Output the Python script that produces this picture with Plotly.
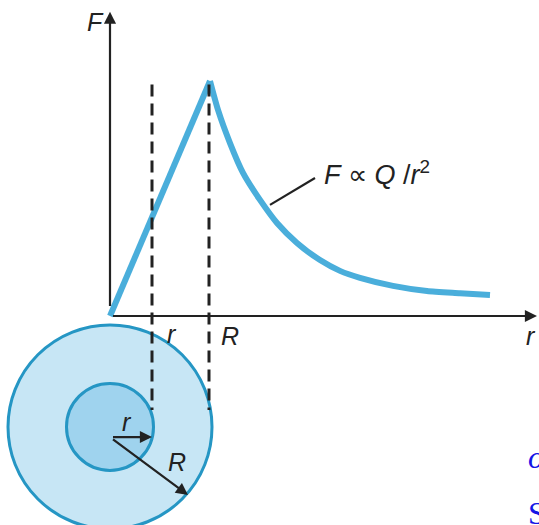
import plotly.graph_objects as go

# --- values (r in units of R, F in units of peak) ---
r_rise = [0.0, 1.0]
f_rise = [0.0, 1.0]
r_fall = [1.0, 1.08, 1.20, 1.33, 1.50, 1.67, 1.87, 2.10, 2.30, 2.50, 2.83, 3.17, 3.50, 3.80]
f_fall = [1.0, 0.877, 0.736, 0.609, 0.494, 0.396, 0.311, 0.238, 0.192, 0.162,
          0.128, 0.106, 0.097, 0.089]

r_small = 0.42      # inner radius position on r axis
r_big = 0.99        # outer radius position on r axis
formula = "<i>F</i> ∝ <i>Q</i> /<i>r</i><sup>2</sup>"

BLUE = "#4aaedb"
EDGE = "#2596c4"
INK = "#222222"
FONT = "Liberation Sans"
W, H = 539, 525

fig = go.Figure()

# rising line inside the sphere, falloff outside
fig.add_trace(go.Scatter(x=r_rise, y=f_rise, mode="lines",
                         line=dict(color=BLUE, width=6),
                         hoverinfo="skip", showlegend=False))
fig.add_trace(go.Scatter(x=r_fall, y=f_fall, mode="lines",
                         line=dict(color=BLUE, width=6, shape="spline", smoothing=0.6),
                         hoverinfo="skip", showlegend=False))

# --- shapes: spheres and dashed guides ---
cy = -0.472
fig.add_shape(type="circle", x0=-1.02, x1=1.02, y0=cy - 0.434, y1=cy + 0.434,
              fillcolor="#c7e6f5", line=dict(color=EDGE, width=3), layer="below")
fig.add_shape(type="circle", x0=-0.435, x1=0.435, y0=cy - 0.185, y1=cy + 0.185,
              fillcolor="#9fd3ee", line=dict(color=EDGE, width=3), layer="below")
for xv in (r_small, r_big):
    fig.add_shape(type="line", x0=xv, x1=xv, y0=0.985, y1=-0.40,
                  line=dict(color=INK, width=3, dash="12px,7px"))

# pointer to the curve
fig.add_shape(type="line", x0=1.60, y0=0.473, x1=2.05, y1=0.587,
              line=dict(color=INK, width=2.2))

# --- axes drawn as arrows ---
arrows = [
    (0, 0, 4.27, 0),
    (0, 0, 0, 1.295),
    (0, -0.515, r_small, -0.515),
    (0, -0.515, 0.78, -0.762),
]
for x0, y0, x1, y1 in arrows:
    fig.add_annotation(x=x1, y=y1, ax=x0, ay=y0, xref="x", yref="y", axref="x", ayref="y",
                       showarrow=True, arrowhead=2, arrowsize=1.1, arrowwidth=2.2,
                       arrowcolor=INK, text=" ")

# --- labels ---
labels = [
    ("F", -0.15, 1.25),
    ("r", 4.21, -0.085),
    ("r", 0.62, -0.075),
    ("R", 1.20, -0.085),
    ("r", 0.17, -0.45),
    ("R", 0.67, -0.62),
]
for txt, x, y in labels:
    fig.add_annotation(x=x, y=y, xref="x", yref="y", text=f"<i>{txt}</i>", showarrow=False,
                       font=dict(family=FONT, size=25, color=INK))

fig.add_annotation(x=2.12, y=0.61, xref="x", yref="y", text=formula, showarrow=False,
                   xanchor="left", yanchor="middle",
                   font=dict(family=FONT, size=27, color=INK))

# cut-off text at the right edge (page pixels)
for txt, px, py in (("<i>o</i>", 526, 457), ("S", 526, 513)):
    fig.add_annotation(x=px / W, y=1 - py / H, xref="paper", yref="paper",
                       text=txt, showarrow=False, xanchor="left", yanchor="middle",
                       font=dict(family="Liberation Serif", size=32, color="#1515e6"))

# origin sits at page pixel (110, 316); 100 px per R, 235 px per F unit
ox, oy = 110, 316
fig.update_layout(
    width=W, height=H,
    margin=dict(l=0, r=0, t=0, b=0),
    paper_bgcolor="white", plot_bgcolor="white",
)
fig.update_xaxes(range=[-ox / 100, (W - ox) / 100], visible=False, fixedrange=True)
fig.update_yaxes(range=[-(H - oy) / 235, oy / 235], visible=False, fixedrange=True)

fig.write_html("out.html", config={"displayModeBar": False},
               post_script="document.body.style.margin='0';document.body.style.overflow='hidden';")
